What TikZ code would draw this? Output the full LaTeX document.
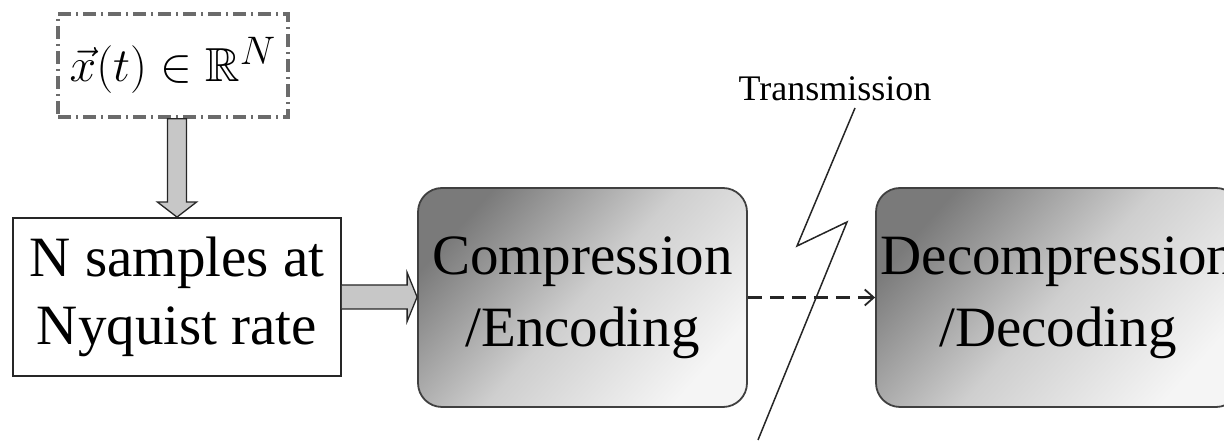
\documentclass[tikz,border=0pt]{standalone}
\usepackage{amsmath,amssymb}
\usepackage{graphicx}
\usepackage{fontspec}
\setmainfont{Liberation Serif}
\usetikzlibrary{calc,arrows.meta}

\tikzset{
  sourcebox/.style={draw=black!58, line width=3.4pt,
    dash pattern=on 13pt off 5pt on 2pt off 5pt,
    minimum width=230pt, minimum height=103pt, inner sep=0pt},
  plainbox/.style={draw=black!85, line width=1.8pt, fill=white,
    minimum width=328pt, minimum height=158pt, inner sep=0pt, align=center,
    font=\fontsize{57}{68}\selectfont},
  shadedbox/.style={draw=black!75, line width=1.8pt, rounded corners=24pt,
    top color=black!52, bottom color=black!4, middle color=black!19,
    shading angle=48,
    minimum height=219pt, inner sep=0pt, align=center,
    font=\fontsize{57}{72}\selectfont},
  blockarr/.style={draw=black!85, line width=1.3pt, fill=black!22, line join=miter},
  linkarr/.style={draw=black!85, line width=2.4pt, dash pattern=on 14pt off 8pt,
    -{Straight Barb[length=9pt,width=16pt,line width=1.8pt]}},
  bolt/.style={draw=black!85, line width=1.5pt, line join=miter}
}

\begin{document}
\begin{tikzpicture}[x=1pt,y=1pt]
  \useasboundingbox (0,0) rectangle (1224,441);
  \clip (0,0) rectangle (1224,441);

  % signal definition
  \node[sourcebox] (sig) at (173,375.5)
    {\scalebox{1.92}{\Huge$\vec{x}(t)\in\mathbb{R}^{N}$}};

  % sampling stage
  \node[plainbox] (samp) at (177,144) {N samples at\\Nyquist rate};

  % encoder and decoder
  \node[shadedbox, minimum width=329pt] (enc) at (582.5,143.5)
    {Compression\\/Encoding};
  \node[shadedbox, minimum width=364pt] (dec) at (1058,143.5)
    {Decompression\\/Decoding};

  % channel label and lightning stroke
  \node[font=\fontsize{36}{40}\selectfont] (tx) at (835,352) {Transmission};
  \coordinate (b0) at (855,333);
  \coordinate (b1) at (797,195);
  \coordinate (b2) at (847,219);
  \coordinate (b3) at (758,1);

  % block arrow: signal -> sampling
  \coordinate (d0) at (sig.south -| samp.north);
  \coordinate (d1) at (samp.north);
  \draw[blockarr] ($(d0)+(-9.5,0)$) -- ($(d1)+(-9.5,15)$) -- ($(d1)+(-19.5,15)$)
    -- (d1) -- ($(d1)+(19.5,15)$) -- ($(d1)+(9.5,15)$) -- ($(d0)+(9.5,0)$) -- cycle;

  % block arrow: sampling -> encoder
  \coordinate (r0) at (samp.east);
  \coordinate (r1) at (enc.west |- samp.east);
  \draw[blockarr] ($(r0)+(0,12)$) -- ($(r1)+(-10,12)$) -- ($(r1)+(-10,24.5)$)
    -- (r1) -- ($(r1)+(-10,-24.5)$) -- ($(r1)+(-10,-12)$) -- ($(r0)+(0,-12)$);

  % transmission link
  \draw[linkarr] (enc.east) -- (dec.west);
  \draw[bolt] (b0) -- (b1) -- (b2) -- (b3);
\end{tikzpicture}
\end{document}
